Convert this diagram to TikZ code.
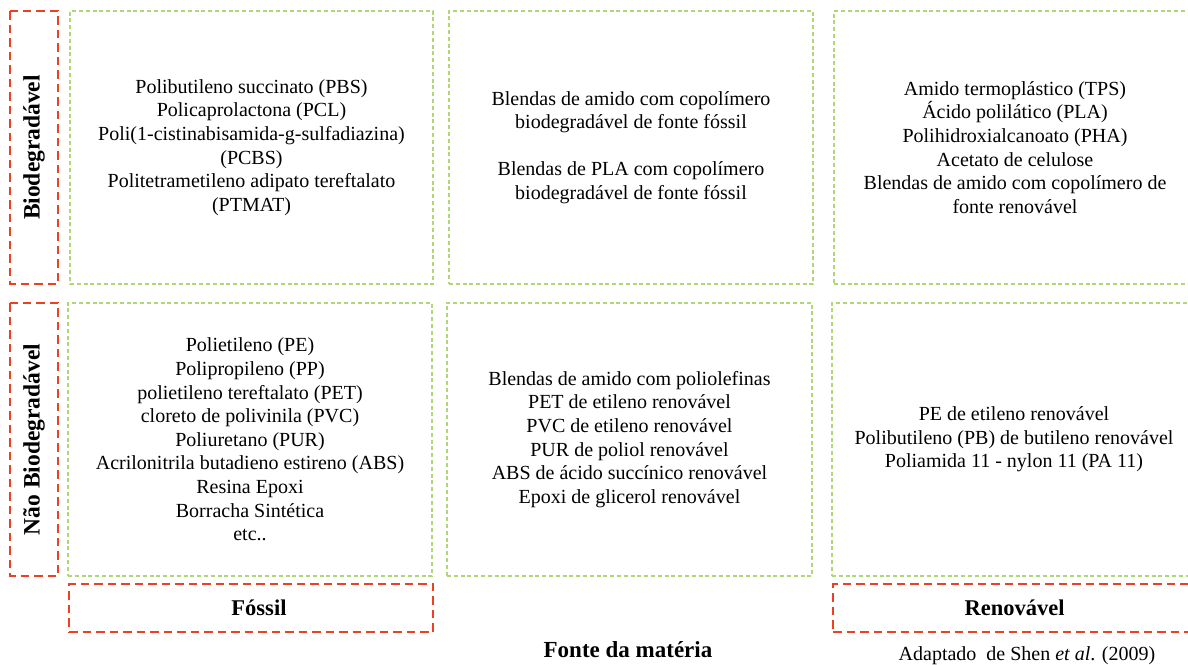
\documentclass[tikz,border=0pt]{standalone}
\usepackage{fontspec}
\setmainfont{Liberation Serif}
\definecolor{catgreen}{RGB}{176,214,120}
\definecolor{axisred}{RGB}{236,64,34}
\tikzset{
  cellbox/.style={draw=catgreen, line width=1.4pt, dash pattern=on 4pt off 2.8pt,
    minimum height=273pt, align=center, inner sep=0pt,
    font=\fontsize{20}{23.6}\selectfont},
  axisbox/.style={draw=axisred, line width=2pt, dash pattern=on 8.5pt off 5pt,
    inner sep=0pt, font=\fontsize{22.5}{26}\selectfont\bfseries},
}
\begin{document}
\begin{tikzpicture}[x=1pt,y=-1pt]
\useasboundingbox (0,0) rectangle (1188,664);

% category cells: rows = degradability, columns = source
\node[cellbox, minimum width=363pt] (c1t) at (251.5,147.5) {%
  Polibutileno succinato (PBS)\\
  Policaprolactona (PCL)\\
  Poli(1-cistinabisamida-g-sulfadiazina)\\
  (PCBS)\\
  Politetrametileno adipato tereftalato\\
  (PTMAT)};
\node[cellbox, minimum width=364pt] (c2t) at (631,147.5) {%
  Blendas de amido com copolímero\\
  biodegradável de fonte fóssil\\[23.6pt]
  Blendas de PLA com copolímero\\
  biodegradável de fonte fóssil};
\node[cellbox, minimum width=362pt] (c3t) at (1015,147.5) {%
  Amido termoplástico (TPS)\\
  Ácido polilático (PLA)\\
  Polihidroxialcanoato (PHA)\\
  Acetato de celulose\\
  Blendas de amido com copolímero de\\
  fonte renovável};

\node[cellbox, minimum width=364pt] (c1b) at (250,439.5) {%
  Polietileno (PE)\\
  Polipropileno (PP)\\
  polietileno tereftalato (PET)\\
  cloreto de polivinila (PVC)\\
  Poliuretano (PUR)\\
  Acrilonitrila butadieno estireno (ABS)\\
  Resina Epoxi\\
  Borracha Sintética\\
  etc..};
\node[cellbox, minimum width=365pt] (c2b) at (629.5,439.5) {%
  Blendas de amido com poliolefinas\\
  PET de etileno renovável\\
  PVC de etileno renovável\\
  PUR de poliol renovável\\
  ABS de ácido succínico renovável\\
  Epoxi de glicerol renovável};
\node[cellbox, minimum width=364pt] (c3b) at (1014,439.5) {%
  PE de etileno renovável\\
  Polibutileno (PB) de butileno renovável\\
  Poliamida 11 - nylon 11 (PA 11)};

% row headers
\node[axisbox, rotate=90, minimum width=273pt, minimum height=48pt,
  font=\fontsize{23.5}{27}\selectfont\bfseries] (rt) at (34,147.5) {Biodegradável};
\node[axisbox, rotate=90, minimum width=273pt, minimum height=48pt,
  font=\fontsize{23.5}{27}\selectfont\bfseries] (rb) at (34,439.5) {Não Biodegradável};

% column headers
\node[axisbox, minimum width=364pt, minimum height=48pt] (fos) at (251,608) {\hspace*{16pt}Fóssil};
\node[axisbox, minimum width=363pt, minimum height=48pt] (ren) at (1014.5,608) {Renovável};

\node[font=\fontsize{23}{27}\selectfont\bfseries] (axis) at (628,650) {Fonte da matéria};
\node[font=\fontsize{20}{24}\selectfont] (src) at (1027,656) {Adaptado\ \ de Shen \textit{et al}. (2009)};
\end{tikzpicture}
\end{document}
